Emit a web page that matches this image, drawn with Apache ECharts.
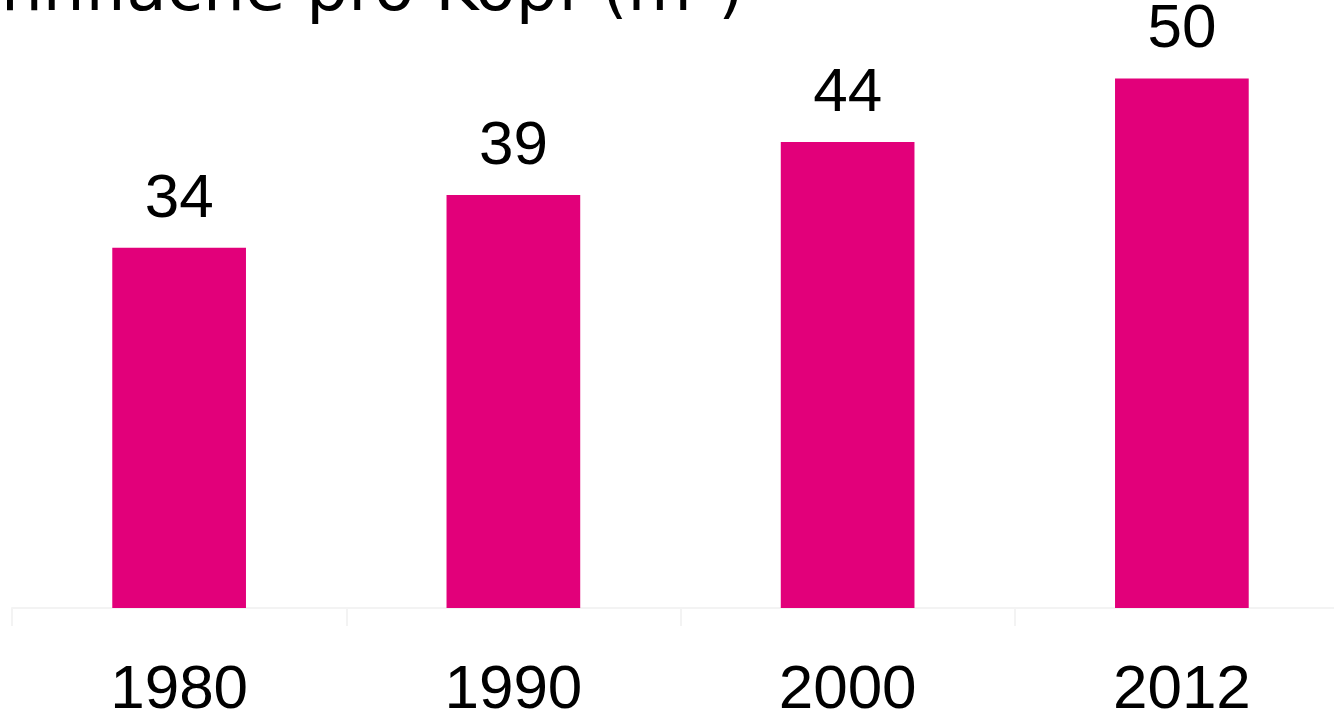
<!DOCTYPE html>
<html>
<head>
<meta charset="utf-8">
<script src="https://cdn.jsdelivr.net/npm/echarts@6/dist/echarts.min.js"></script>
<style>
  html, body { margin: 0; padding: 0; background: #fff; }
  #chart { width: 1334px; height: 715px; }
</style>
</head>
<body>
<div id="chart"></div>
<script>
const titleText = 'Wohnfläche pro Kopf (m²)'
const years = ['1980', '1990', '2000', '2012']
const values = [34, 39, 44, 50]

const chart = echarts.init(document.getElementById('chart'))

const option = {
  animation: false,
  title: {
    text: titleText,
    right: 585,
    top: -45,
    textStyle: {
      fontFamily: 'DejaVu Sans',
      fontWeight: 'normal',
      fontSize: 66,
      color: '#000'
    }
  },
  grid: {
    left: 12,
    width: 1337,
    top: 0,
    bottom: 107,
    containLabel: false,
    outerBoundsMode: 'none'
  },
  xAxis: {
    type: 'category',
    data: years,
    axisLine: { lineStyle: { color: '#f3f3f3', width: 2 } },
    axisTick: { show: true, length: 18, lineStyle: { color: '#f3f3f3', width: 2 } },
    axisLabel: {
      color: '#000',
      fontFamily: 'Liberation Sans',
      fontSize: 62,
      margin: 52
    }
  },
  yAxis: {
    type: 'value',
    min: 0,
    max: 57.4,
    show: false,
    splitLine: { show: false }
  },
  series: [{
    type: 'bar',
    data: values,
    barWidth: '40%',
    itemStyle: { color: '#e2007a' },
    label: {
      show: true,
      position: 'top',
      distance: 17,
      color: '#000',
      fontFamily: 'Liberation Sans',
      fontSize: 62
    }
  }]
}

chart.setOption(option)
</script>
</body>
</html>
